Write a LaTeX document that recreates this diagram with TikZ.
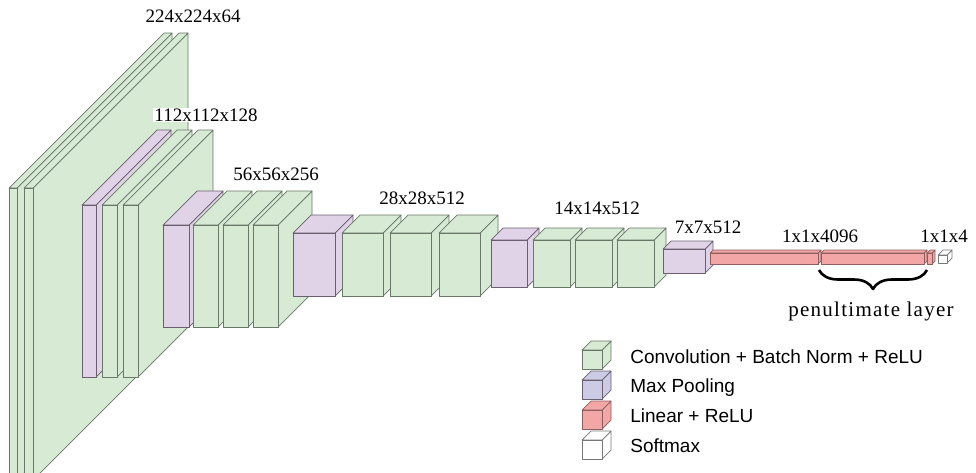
\documentclass[tikz,border=0pt]{standalone}
\usepackage{fontspec}
\setmainfont{Liberation Serif}
\setsansfont{Liberation Sans}
\usetikzlibrary{decorations.pathreplacing}
\definecolor{convfill}{RGB}{214,234,212}
\definecolor{convedge}{RGB}{105,120,105}
\definecolor{poolfill}{RGB}{225,211,231}
\definecolor{pooledge}{RGB}{105,95,110}
\definecolor{keypool}{RGB}{204,203,229}
\definecolor{fcfill}{RGB}{242,166,166}
\definecolor{fcedge}{RGB}{140,95,95}
\definecolor{softedge}{RGB}{120,120,120}
% cuboid: [style] x-left, x-right, front top, depth; front bottom is \vggbot
\newcommand{\vggbot}{0}
\newcommand{\vggslab}[5][conv]{%
  \filldraw[#1] (#3,#4) -- ({#3+#5},{#4-#5}) -- ({#3+#5},{\vggbot-#5}) -- (#3,\vggbot) -- cycle;
  \filldraw[#1] (#2,#4) -- ({#2+#5},{#4-#5}) -- ({#3+#5},{#4-#5}) -- (#3,#4) -- cycle;
  \filldraw[#1] (#2,#4) rectangle (#3,\vggbot);}
\begin{document}
\begin{tikzpicture}[x=1pt,y=-1pt,line width=0.7pt,line join=round,
  conv/.style={fill=convfill,draw=convedge},
  pool/.style={fill=poolfill,draw=pooledge},
  kpool/.style={fill=keypool,draw=pooledge},
  fc/.style={fill=fcfill,draw=fcedge},
  soft/.style={fill=white,draw=softedge},
  dim/.style={font=\fontsize{19}{22}\selectfont,inner sep=1pt},
  key/.style={font=\sffamily\fontsize{19}{22}\selectfont,anchor=base west,inner sep=0pt}]
  \useasboundingbox (0,0) rectangle (976,472);
  \clip (0,0) rectangle (976,472);
  % 224x224x64
  \renewcommand{\vggbot}{480}
  \vggslab{9}{17}{188}{155} \vggslab{24}{33}{188}{155}
  \node[dim] (l224) at (193,16) {224x224x64};
  % 112x112x128
  \renewcommand{\vggbot}{377}
  \vggslab[pool]{82}{96}{205}{75}
  \foreach \x in {102,123} {\vggslab{\x}{\x+15}{205}{75}}
  \node[dim,fill=white] (l112) at (206,115) {112x112x128};
  % 56x56x256
  \renewcommand{\vggbot}{327}
  \vggslab[pool]{163}{189}{225}{34}
  \foreach \x in {193,223,253} {\vggslab{\x}{\x+25}{225}{34}}
  \node[dim] (l56) at (276,174) {56x56x256};
  % 28x28x512
  \renewcommand{\vggbot}{296}
  \vggslab[pool]{293}{335}{233}{18}
  \foreach \x in {342,390,439} {\vggslab{\x}{\x+41}{233}{18}}
  \node[dim] (l28) at (422,198) {28x28x512};
  % 14x14x512
  \renewcommand{\vggbot}{287}
  \vggslab[pool]{491}{527}{240}{12}
  \foreach \x in {533,575,617} {\vggslab{\x}{\x+37}{240}{12}}
  \node[dim] (l14) at (597,208) {14x14x512};
  % 7x7x512
  \renewcommand{\vggbot}{273}
  \vggslab[pool]{663}{705}{249}{8}
  \node[dim] (l7) at (708,227) {7x7x512};
  % dense part
  \renewcommand{\vggbot}{264}
  \vggslab[fc]{710}{818}{253}{3} \vggslab[fc]{821}{924}{253}{3} \vggslab[fc]{927}{932}{253}{3}
  \renewcommand{\vggbot}{263}
  \vggslab[soft]{938}{947}{255}{5}
  \node[dim] (l4096) at (820,236) {1x1x4096};
  \node[dim] (l4) at (944,236) {1x1x4};
  \coordinate (bl) at (819,270); \coordinate (br) at (927,270);
  \draw[decorate,decoration={brace,mirror,amplitude=19pt},line width=2.6pt] (bl) -- (br);
  \node[dim,font=\fontsize{21}{24}\selectfont\addfontfeature{LetterSpace=6}] (pen) at (871,311) {penultimate layer};
  % legend
  \renewcommand{\vggbot}{369} \vggslab{582}{602}{350}{9}
  \renewcommand{\vggbot}{399} \vggslab[kpool]{582}{602}{380}{9}
  \renewcommand{\vggbot}{429} \vggslab[fc]{582}{602}{410}{9}
  \renewcommand{\vggbot}{459} \vggslab[soft]{582}{602}{440}{9}
  \node[key] (kconv) at (630,363) {Convolution + Batch Norm + ReLU};
  \node[key] (kpool) at (630,392.7) {Max Pooling};
  \node[key] (kfc) at (630,422.4) {Linear + ReLU};
  \node[key] (ksoft) at (630,452.1) {Softmax};
\end{tikzpicture}
\end{document}
